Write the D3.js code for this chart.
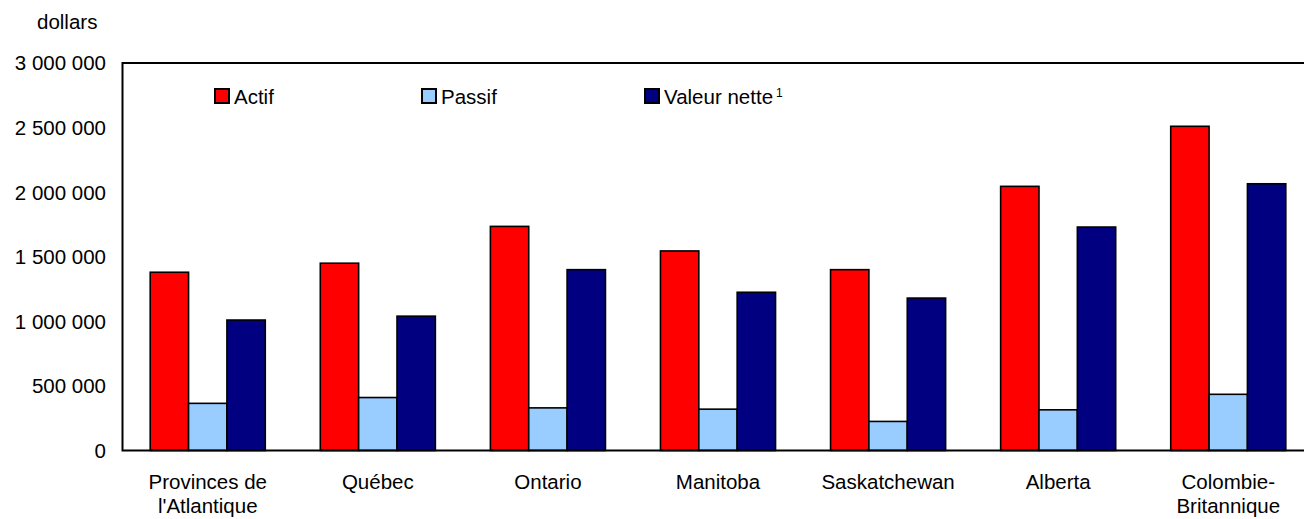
<!DOCTYPE html>
<html>
<head>
<meta charset="utf-8">
<script src="https://cdn.jsdelivr.net/npm/d3@7"></script>
<style>
  body { margin: 0; background: #fff; }
  svg text { font-family: "Liberation Sans", Arial, sans-serif; fill: #000; }
</style>
</head>
<body>
<div id="chart"></div>
<script>
var provinces = [["Provinces de", "l'Atlantique"], ["Québec"], ["Ontario"], ["Manitoba"],
                 ["Saskatchewan"], ["Alberta"], ["Colombie-", "Britannique"]];
var seriesNames = ["Actif", "Passif", "Valeur nette"];
var actif = [1380000, 1450000, 1735000, 1545000, 1400000, 2045000, 2510000];
var passif = [365000, 410000, 330000, 320000, 225000, 315000, 435000];
var valeurNette = [1010000, 1040000, 1400000, 1225000, 1180000, 1730000, 2065000];
var yTicks = [0, 500000, 1000000, 1500000, 2000000, 2500000, 3000000];

var colors = ["#ff0000", "#99ccff", "#000080"];
var W = 1304, H = 519;
var pLeft = 123, pRight = 1313, pTop = 63, pBottom = 450.5;

var svg = d3.select("#chart").append("svg")
  .attr("width", W).attr("height", H);

var keys = provinces.map(function(d) { return d.join(" "); });
var x = d3.scaleBand().domain(keys).range([pLeft, pRight])
  .paddingInner(0.3235).paddingOuter(0.16);
var x1 = d3.scaleBand().domain(seriesNames).range([0, x.bandwidth()]);
var y = d3.scaleLinear().domain([0, 3000000]).range([pBottom, pTop]);

var fmt = function(v) { return d3.format(",")(v).replace(/,/g, " "); };

// y labels
svg.append("g").selectAll("text")
  .data(yTicks).enter().append("text")
  .attr("x", 106).attr("y", function(d) { return y(d); })
  .attr("dy", "0.36em")
  .attr("text-anchor", "end")
  .style("font-size", "20.5px")
  .text(fmt);

svg.append("text").attr("x", 37).attr("y", 29)
  .style("font-size", "20.5px").text("dollars");

// bars
var rows = keys.map(function(k, i) {
  return { key: k, vals: [actif[i], passif[i], valeurNette[i]] };
});
var groups = svg.append("g").selectAll("g")
  .data(rows).enter().append("g")
  .attr("transform", function(d) { return "translate(" + x(d.key) + ",0)"; });
groups.selectAll("rect")
  .data(function(d) { return d.vals.map(function(v, j) { return { s: seriesNames[j], v: v, j: j }; }); })
  .enter().append("rect")
  .attr("x", function(d) { return x1(d.s); })
  .attr("width", x1.bandwidth())
  .attr("y", function(d) { return y(d.v); })
  .attr("height", function(d) { return y(0) - y(d.v); })
  .attr("fill", function(d) { return colors[d.j]; })
  .attr("stroke", "#000").attr("stroke-width", 1.6);

// frame
svg.append("path")
  .attr("d", "M" + pRight + "," + pTop + "H" + (pLeft - 0.5) + "V" + pBottom + "H" + pRight)
  .attr("fill", "none").attr("stroke", "#000").attr("stroke-width", 2);

// x labels
var xl = svg.append("g").selectAll("text")
  .data(rows).enter().append("text")
  .attr("text-anchor", "middle")
  .style("font-size", "20.5px")
  .attr("transform", function(d) { return "translate(" + (x(d.key) + x.bandwidth() / 2) + ",489)"; });
xl.selectAll("tspan")
  .data(function(d, i) { return provinces[i]; })
  .enter().append("tspan")
  .attr("x", 0).attr("y", function(d, i) { return i * 24; })
  .text(function(d) { return d; });

// legend
var legX = [215, 422, 645];
var leg = svg.append("g").selectAll("g")
  .data(seriesNames).enter().append("g")
  .attr("transform", function(d, i) { return "translate(" + legX[i] + ",89)"; });
leg.append("rect").attr("width", 14).attr("height", 14)
  .attr("fill", function(d, i) { return colors[i]; })
  .attr("stroke", "#000").attr("stroke-width", 2);
var lt = leg.append("text").attr("x", 19).attr("y", 15)
  .style("font-size", "20.5px")
  .text(function(d) { return d; });
lt.filter(function(d) { return d === "Valeur nette"; })
  .append("tspan").attr("dx", 3).attr("dy", -7)
  .style("font-size", "12px").text("1");
</script>
</body>
</html>
